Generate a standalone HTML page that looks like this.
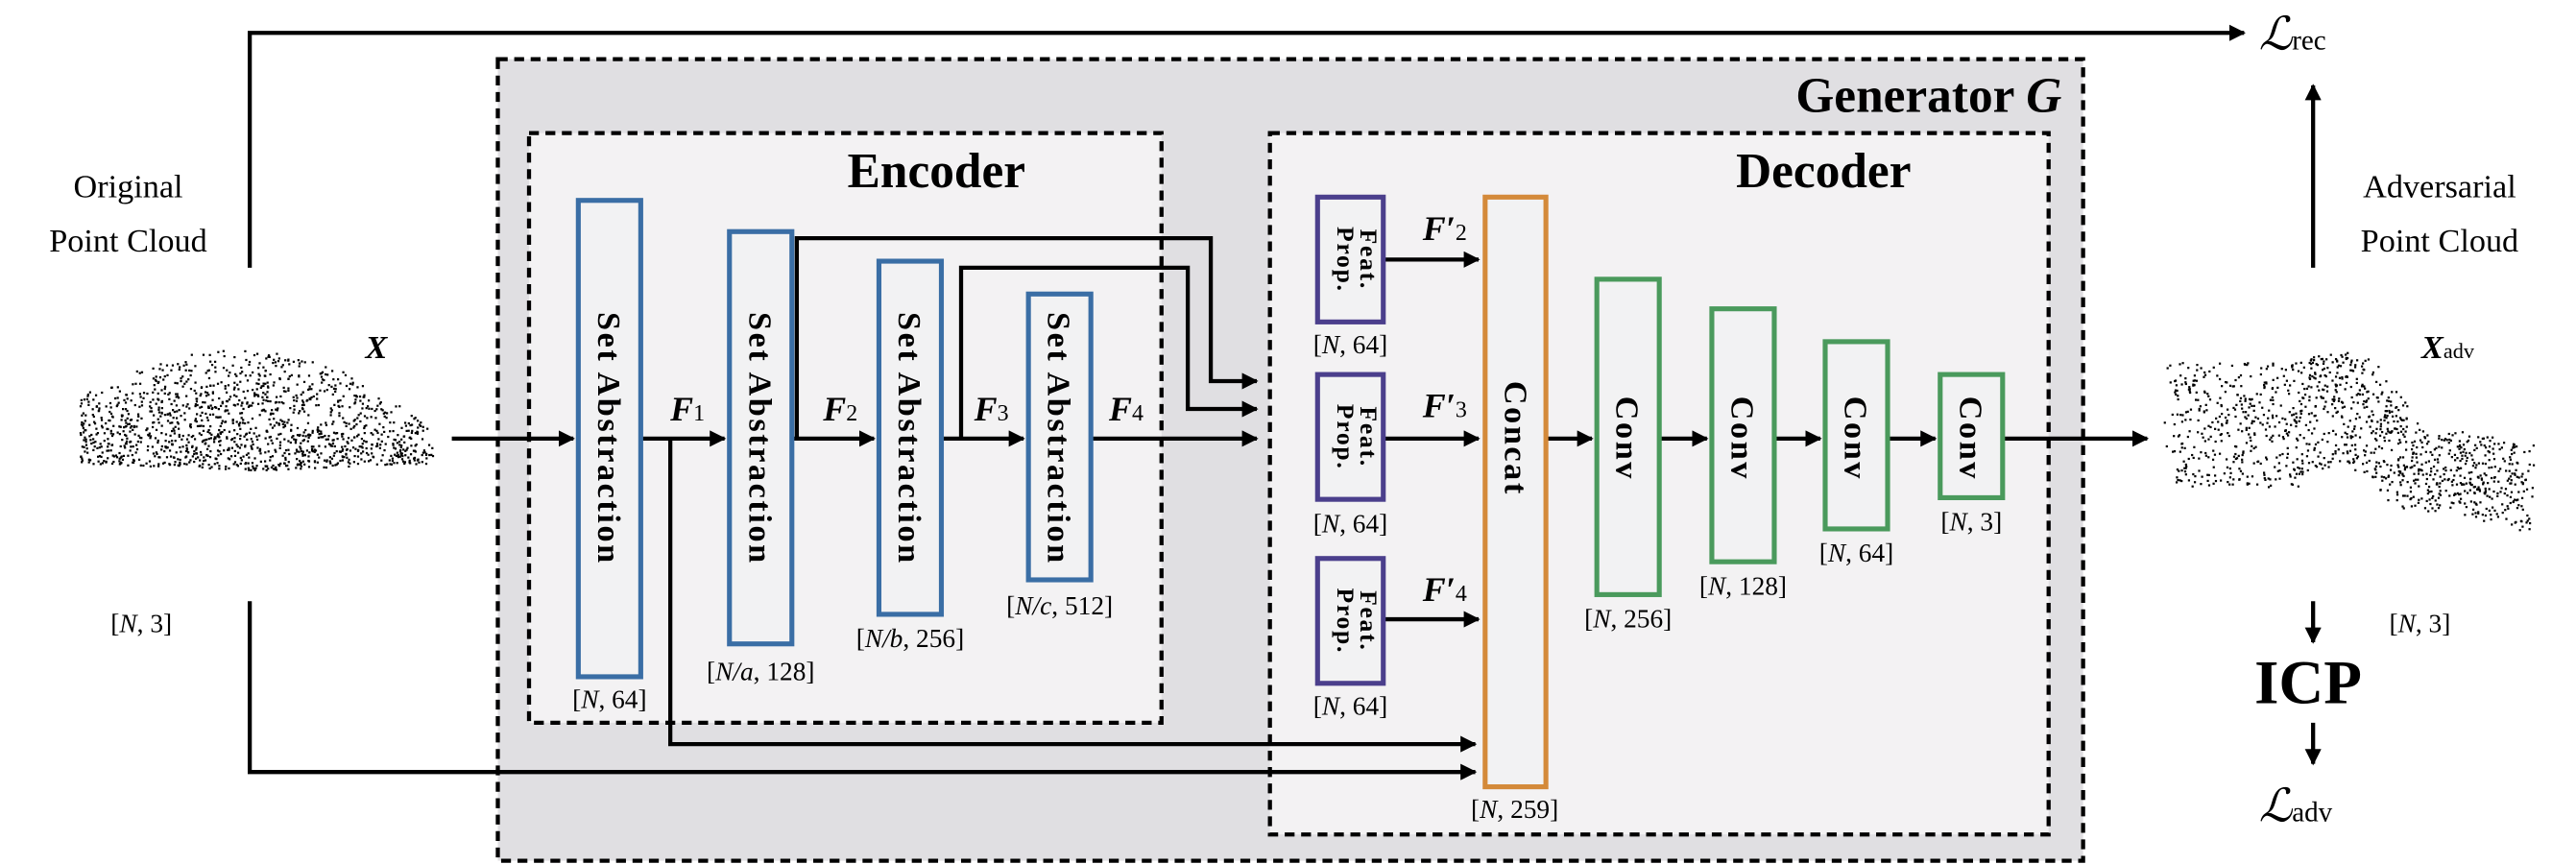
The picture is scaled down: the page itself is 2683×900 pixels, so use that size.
<!DOCTYPE html>
<html><head><meta charset="utf-8"><style>
html,body{margin:0;padding:0;background:#fff;}
svg{display:block;}
text{font-family:"Liberation Serif",serif;fill:#000;}
.b{font-weight:bold;}
</style></head><body>
<svg id="s" width="2683" height="900" viewBox="0 0 1568 526" xmlns="http://www.w3.org/2000/svg">
<defs>
<marker id="a" markerWidth="10" markerHeight="10" refX="9" refY="5" orient="auto" markerUnits="userSpaceOnUse">
<path d="M0,0 L10,5 L0,10 z" fill="#000"/></marker>
</defs>
<rect x="303" y="36" width="965" height="488" fill="#e0dfe2" stroke="#000" stroke-width="2.5" stroke-dasharray="6,4"/>
<text x="1255" y="68" font-size="30" text-anchor="end" class="b">Generator <tspan font-style="italic">G</tspan></text>
<rect x="322" y="81" width="385" height="359" fill="#f3f2f3" stroke="#000" stroke-width="2.5" stroke-dasharray="6,4"/>
<text x="570" y="114" font-size="30" text-anchor="middle" class="b">Encoder</text>
<rect x="773" y="81" width="474" height="427" fill="#f3f2f3" stroke="#000" stroke-width="2.5" stroke-dasharray="6,4"/>
<text x="1110" y="114" font-size="30" text-anchor="middle" class="b">Decoder</text>

<g stroke="#000" stroke-width="2.5" fill="none">
<polyline points="152,163 152,20 1366,20" marker-end="url(#a)"/>
<polyline points="152,366 152,470 898,470" marker-end="url(#a)"/>
<line x1="275" y1="267" x2="349" y2="267" marker-end="url(#a)"/>
<line x1="391" y1="267" x2="441" y2="267" marker-end="url(#a)"/>
<line x1="483" y1="267" x2="532" y2="267" marker-end="url(#a)"/>
<line x1="574" y1="267" x2="623" y2="267" marker-end="url(#a)"/>
<line x1="665" y1="267" x2="765" y2="267" marker-end="url(#a)"/>
<polyline points="485,267 485,145 737,145 737,232 765,232" marker-end="url(#a)"/>
<polyline points="585,267 585,163 723,163 723,249 765,249" marker-end="url(#a)"/>
<polyline points="408,267 408,453 898,453" marker-end="url(#a)"/>
<line x1="843" y1="158" x2="900" y2="158" marker-end="url(#a)"/>
<line x1="843" y1="267" x2="900" y2="267" marker-end="url(#a)"/>
<line x1="843" y1="377" x2="900" y2="377" marker-end="url(#a)"/>
<line x1="942" y1="267" x2="969" y2="267" marker-end="url(#a)"/>
<line x1="1011" y1="267" x2="1039" y2="267" marker-end="url(#a)"/>
<line x1="1081" y1="267" x2="1108" y2="267" marker-end="url(#a)"/>
<line x1="1150" y1="267" x2="1178" y2="267" marker-end="url(#a)"/>
<line x1="1220" y1="267" x2="1307" y2="267" marker-end="url(#a)"/>
<line x1="1408" y1="163" x2="1408" y2="52" marker-end="url(#a)"/>
<line x1="1408" y1="366" x2="1408" y2="391" marker-end="url(#a)"/>
<line x1="1408" y1="440" x2="1408" y2="465" marker-end="url(#a)"/>
</g>

<g fill="#f2f2f3" stroke="#3a6ea5" stroke-width="3">
<rect x="352" y="122" width="38" height="290"/>
<rect x="444" y="141" width="38" height="251"/>
<rect x="535" y="159" width="38" height="215"/>
<rect x="626" y="179" width="38" height="174"/>
</g>
<g font-size="20" class="b" letter-spacing="1.5">
<text transform="translate(364,267) rotate(90)" text-anchor="middle">Set Abstraction</text>
<text transform="translate(456,267) rotate(90)" text-anchor="middle">Set Abstraction</text>
<text transform="translate(547,267) rotate(90)" text-anchor="middle">Set Abstraction</text>
<text transform="translate(638,267) rotate(90)" text-anchor="middle">Set Abstraction</text>
</g>
<g fill="#f2f2f3" stroke="#4b3f8c" stroke-width="3">
<rect x="802" y="120" width="40" height="76"/>
<rect x="802" y="228" width="40" height="76"/>
<rect x="802" y="340" width="40" height="76"/>
</g>
<g font-size="15" class="b" letter-spacing="1">
<text transform="translate(828,158) rotate(90)" text-anchor="middle">Feat.</text>
<text transform="translate(814,158) rotate(90)" text-anchor="middle">Prop.</text>
<text transform="translate(828,266) rotate(90)" text-anchor="middle">Feat.</text>
<text transform="translate(814,266) rotate(90)" text-anchor="middle">Prop.</text>
<text transform="translate(828,378) rotate(90)" text-anchor="middle">Feat.</text>
<text transform="translate(814,378) rotate(90)" text-anchor="middle">Prop.</text>
</g>
<rect x="904" y="120" width="37" height="359" fill="#f2f2f3" stroke="#d48a3a" stroke-width="3"/>
<text transform="translate(916,267) rotate(90)" text-anchor="middle" font-size="20" class="b" letter-spacing="1.5">Concat</text>
<g fill="#f2f2f3" stroke="#4a9a5c" stroke-width="3">
<rect x="972" y="170" width="38" height="192"/>
<rect x="1042" y="188" width="38" height="154"/>
<rect x="1111" y="208" width="38" height="114"/>
<rect x="1181" y="228" width="38" height="75"/>
</g>
<g font-size="20" class="b" letter-spacing="1.5">
<text transform="translate(984,267) rotate(90)" text-anchor="middle">Conv</text>
<text transform="translate(1054,267) rotate(90)" text-anchor="middle">Conv</text>
<text transform="translate(1123,267) rotate(90)" text-anchor="middle">Conv</text>
<text transform="translate(1193,267) rotate(90)" text-anchor="middle">Conv</text>
</g>

<g font-size="17">
<text x="78" y="120" text-anchor="middle" font-size="20">Original</text>
<text x="78" y="153" text-anchor="middle" font-size="20">Point Cloud</text>
<text x="1485" y="120" text-anchor="middle" font-size="20">Adversarial</text>
<text x="1485" y="153" text-anchor="middle" font-size="20">Point Cloud</text>
<text x="229" y="218" font-size="20" class="b" font-style="italic" text-anchor="middle">X</text>
<text x="1490" y="218" font-size="20" class="b" font-style="italic" text-anchor="middle">X<tspan font-size="13" font-weight="normal" font-style="normal">adv</tspan></text>
<text x="86" y="385" text-anchor="middle" font-size="16">[<tspan font-style="italic">N</tspan>, 3]</text>
<text x="1473" y="385" text-anchor="middle" font-size="16">[<tspan font-style="italic">N</tspan>, 3]</text>
<text x="371" y="431" text-anchor="middle" font-size="16">[<tspan font-style="italic">N</tspan>, 64]</text>
<text x="463" y="414" text-anchor="middle" font-size="16">[<tspan font-style="italic">N/a</tspan>, 128]</text>
<text x="554" y="394" text-anchor="middle" font-size="16">[<tspan font-style="italic">N/b</tspan>, 256]</text>
<text x="645" y="374" text-anchor="middle" font-size="16">[<tspan font-style="italic">N/c</tspan>, 512]</text>
<text x="822" y="215" text-anchor="middle" font-size="16">[<tspan font-style="italic">N</tspan>, 64]</text>
<text x="822" y="324" text-anchor="middle" font-size="16">[<tspan font-style="italic">N</tspan>, 64]</text>
<text x="822" y="435" text-anchor="middle" font-size="16">[<tspan font-style="italic">N</tspan>, 64]</text>
<text x="922" y="498" text-anchor="middle" font-size="16">[<tspan font-style="italic">N</tspan>, 259]</text>
<text x="991" y="382" text-anchor="middle" font-size="16">[<tspan font-style="italic">N</tspan>, 256]</text>
<text x="1061" y="362" text-anchor="middle" font-size="16">[<tspan font-style="italic">N</tspan>, 128]</text>
<text x="1130" y="342" text-anchor="middle" font-size="16">[<tspan font-style="italic">N</tspan>, 64]</text>
<text x="1200" y="323" text-anchor="middle" font-size="16">[<tspan font-style="italic">N</tspan>, 3]</text>
</g>
<g font-size="21" class="b" font-style="italic">
<text x="408" y="256">F<tspan font-size="14" font-style="normal" font-weight="normal">1</tspan></text>
<text x="501" y="256">F<tspan font-size="14" font-style="normal" font-weight="normal">2</tspan></text>
<text x="593" y="256">F<tspan font-size="14" font-style="normal" font-weight="normal">3</tspan></text>
<text x="675" y="256">F<tspan font-size="14" font-style="normal" font-weight="normal">4</tspan></text>
<text x="866" y="146">F′<tspan font-size="14" font-style="normal" font-weight="normal">2</tspan></text>
<text x="866" y="254">F′<tspan font-size="14" font-style="normal" font-weight="normal">3</tspan></text>
<text x="866" y="366">F′<tspan font-size="14" font-style="normal" font-weight="normal">4</tspan></text>
</g>
<text x="1405" y="428" font-size="38" class="b" text-anchor="middle">ICP</text>
<text x="1375" y="30" font-size="28" font-style="italic">ℒ<tspan font-size="17" font-style="normal">rec</tspan></text>
<text x="1375" y="500" font-size="28" font-style="italic">ℒ<tspan font-size="17" font-style="normal">adv</tspan></text>
<g id="pc" fill="#000"></g>
</svg>
<script>
(function(){
var s=12345;function r(){s=(s*1103515245+12345)%2147483648;return s/2147483648;}
var g=document.getElementById('pc'),h='';
function dot(px,py){h+='<rect x="'+px.toFixed(1)+'" y="'+py.toFixed(1)+'" width="1.3" height="1.3"/>';}
// left car: x 48-263, roof top ~y210 mid, bottom ~y290
var n=0;while(n<1400){var x=r(),y=r();
var top=0.08+0.55*Math.pow(Math.abs(x-0.45)/0.55,2);if(x<0.05)top=0.35;
var bot=0.92-0.1*Math.abs(x-0.5);
if(y<top||y>bot)continue;
var d=(y-top)/(bot-top);if(r()>0.35+0.65*d)continue;
dot(48+x*215,205+y*88);n++;}
// right warped cloud
n=0;while(n<1200){var t=r();
var cx,cy,hh;
if(t<0.35){cx=1322+t/0.35*80;cy=258;hh=38;}
else if(t<0.65){var u=(t-0.35)/0.3;cx=1402+u*60;cy=255+u*25-Math.sin(u*Math.PI)*18;hh=34;}
else{var u=(t-0.65)/0.35;cx=1462+u*78;cy=282+u*15;hh=26;}
dot(cx+(r()-0.5)*12,cy+(r()-0.5)*2*hh);n++;}
g.innerHTML=h;})();
</script>
</body></html>
